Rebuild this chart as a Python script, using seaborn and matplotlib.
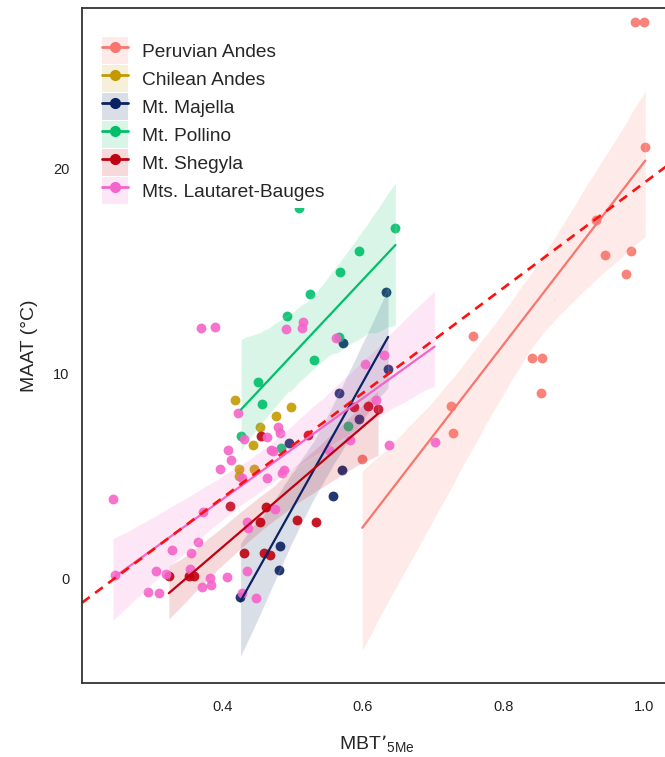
import numpy as np
import pandas as pd
import matplotlib
matplotlib.use("Agg")
import matplotlib.pyplot as plt
import seaborn as sns
from matplotlib.patches import Patch
from matplotlib.lines import Line2D

# values (MBT'5Me, MAAT)
peru_x = [0.599, 0.725, 0.728, 0.756, 0.840, 0.855, 0.854, 0.932, 0.944, 0.974, 0.981, 0.988, 1.000, 1.002]
peru_y = [5.84, 8.41, 7.12, 11.84, 10.76, 10.76, 9.04, 17.51, 15.80, 14.85, 16.00, 27.15, 27.15, 21.06]

chile_x = [0.4185, 0.4978, 0.4768, 0.4541, 0.4437, 0.4242, 0.4446, 0.4230]
chile_y = [8.73, 8.36, 7.95, 7.40, 6.50, 5.35, 5.35, 5.02]

majella_x = [0.4256, 0.4811, 0.4826, 0.557, 0.5705, 0.4954, 0.595, 0.566, 0.572, 0.6358, 0.6335]
majella_y = [-0.91, 0.40, 1.58, 4.02, 5.32, 6.60, 7.78, 9.06, 11.50, 10.24, 13.98]

pollino_x = [0.4265, 0.4507, 0.4565, 0.484, 0.492, 0.5096, 0.524, 0.531, 0.566, 0.5785, 0.568, 0.594, 0.6463]
pollino_y = [6.94, 9.60, 8.52, 6.37, 12.80, 18.08, 13.89, 10.65, 11.80, 7.43, 14.94, 16.00, 17.09]

shegyla_x = [0.587, 0.607, 0.6216, 0.4551, 0.5214, 0.4114, 0.4626, 0.5063, 0.5334, 0.4531,
             0.4304, 0.4588, 0.4683, 0.3236, 0.353, 0.359]
shegyla_y = [8.38, 8.44, 8.28, 6.94, 7.02, 3.53, 3.48, 2.85, 2.76, 2.75,
             1.22, 1.22, 1.15, 0.11, 0.11, 0.11]

lb_x = [0.515, 0.490, 0.513, 0.3697, 0.390, 0.561, 0.603, 0.4222, 0.619, 0.4788, 0.4826, 0.4313,
        0.4627, 0.5813, 0.4076, 0.4684, 0.4717, 0.4124, 0.3969, 0.4873, 0.485, 0.428, 0.4636,
        0.244, 0.4754, 0.372, 0.4352, 0.436, 0.365, 0.328, 0.3558, 0.354, 0.3056, 0.4352,
        0.2477, 0.319, 0.3829, 0.4067, 0.371, 0.3843, 0.2937, 0.3094, 0.428, 0.4484,
        0.6296, 0.702, 0.6377, 0.5513]
lb_y = [12.50, 12.20, 12.23, 12.23, 12.26, 11.74, 10.47, 8.08, 8.70, 7.40, 7.11, 6.83,
        6.91, 6.78, 6.26, 6.29, 6.21, 5.80, 5.35, 5.32, 5.16, 4.91, 4.91,
        3.90, 3.37, 3.25, 2.75, 2.47, 1.77, 1.38, 1.22, 0.47, 0.36, 0.36,
        0.16, 0.20, 0.00, 0.07, -0.41, -0.34, -0.65, -0.73, -0.70, -0.94,
        10.93, 6.68, 6.50, 6.26]

sites = ["Peruvian Andes", "Chilean Andes", "Mt. Majella", "Mt. Pollino",
         "Mt. Shegyla", "Mts. Lautaret-Bauges"]
colors = ["#F8766D", "#C49A00", "#0B2263", "#00BF6A", "#C00010", "#F564C9"]
xs = [peru_x, chile_x, majella_x, pollino_x, shegyla_x, lb_x]
ys = [peru_y, chile_y, majella_y, pollino_y, shegyla_y, lb_y]

df = pd.concat([pd.DataFrame({"mbt": x, "maat": y, "site": s}) for x, y, s in zip(xs, ys, sites)],
               ignore_index=True)

sns.set_style("white")
plt.rcParams["font.family"] = ["Liberation Sans", "DejaVu Sans"]
plt.rcParams["mathtext.default"] = "regular"

fig = plt.figure(figsize=(6.65, 7.57), dpi=100)
ax = fig.add_axes([0.1233, 0.0978, 0.8872, 0.8917])
ax.set_xlim(0.2, 1.04)
ax.set_ylim(-5.1, 27.85)

for s, c in zip(sites, colors):
    sub = df[df.site == s]
    sns.regplot(data=sub, x="mbt", y="maat", ax=ax, color=c,
                fit_reg=(s != "Chilean Andes"), seed=0, truncate=True,
                scatter_kws=dict(s=50, alpha=0.9, linewidths=0),
                line_kws=dict(lw=1.6))

# overall fit, all sites
sns.regplot(data=df, x="mbt", y="maat", ax=ax, scatter=False, ci=None, truncate=False,
            color="#FF1010", line_kws=dict(lw=1.9, ls=(0, (3.6, 2.6))))

ax.set_xlim(0.2, 1.04)
ax.set_ylim(-5.1, 27.85)
ax.set_xticks([0.4, 0.6, 0.8, 1.0])
ax.set_xticklabels(["0.4", "0.6", "0.8", "1.0"])
ax.set_yticks([0, 10, 20])
ax.tick_params(axis="both", length=0, labelsize=10.5, colors="#222222")
ax.tick_params(axis="x", pad=12)
ax.tick_params(axis="y", pad=9)
for sp in ax.spines.values():
    sp.set_color("#333333")
    sp.set_linewidth(1.3)

ax.set_xlabel("MBT\u2019$_{5Me}$", fontsize=14, labelpad=14)
ax.set_ylabel("MAAT (\u00b0C)", fontsize=14, labelpad=11)

handles = [(Patch(facecolor=c, alpha=0.15, edgecolor="none"),
            Line2D([0], [0], color=c, lw=2, marker="o", markersize=7))
           for c in colors]
ax.legend(handles, sites, loc="upper left", bbox_to_anchor=(0.0255, 0.9637), borderaxespad=0,
          fontsize=13.8, numpoints=1, handlelength=1.37, handleheight=1.76,
          handletextpad=0.75, labelspacing=0.07, borderpad=0.25,
          frameon=True, facecolor="white", edgecolor="none", framealpha=1, fancybox=False)

fig.savefig("out.png", dpi=100)
